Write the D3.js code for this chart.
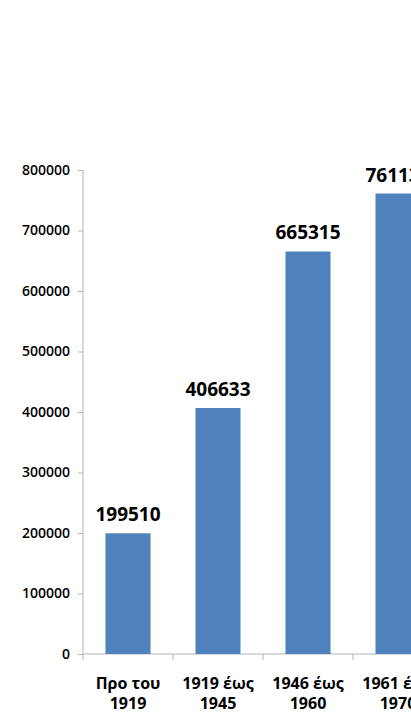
<!DOCTYPE html>
<html><head><meta charset="utf-8">
<script src="https://cdn.jsdelivr.net/npm/d3@7"></script>
<style>html,body{margin:0;padding:0;background:#fff;overflow:hidden}</style>
</head><body>
<svg id="c" width="411" height="728"></svg>
<script>
const categories = [["Προ του","1919"],["1919 έως","1945"],["1946 έως","1960"],["1961 έως","1970"]];
const values = [199510, 406633, 665315, 761138];
const yTicks = [0,100000,200000,300000,400000,500000,600000,700000,800000];

const svg = d3.select("#c");
const x = d3.scaleBand().domain(d3.range(categories.length)).range([83, 83+90*categories.length]).paddingInner(0.5).paddingOuter(0.25);
const y = d3.scaleLinear().domain([0,800000]).range([654,170]);
const axisColor = "#b3b3b3";

// y axis
const ya = svg.append("g").attr("transform","translate(83,0)")
  .call(d3.axisLeft(y).tickValues(yTicks).tickSize(5).tickPadding(8).tickFormat(d3.format("d")));
ya.select(".domain").attr("stroke",axisColor).attr("d","M0,170V654");
ya.selectAll(".tick line").attr("stroke",axisColor);
ya.selectAll(".tick text").attr("fill","#000").style("font-family","Open Sans").style("font-size","14px").style("font-weight","600");

// x axis
const xa = svg.append("g").attr("transform","translate(0,654)");
xa.append("line").attr("x1",83).attr("x2",x.range()[1]).attr("stroke",axisColor);
xa.selectAll("line.t").data(d3.range(categories.length)).join("line").attr("class","t")
  .attr("x1",i=>x(i)-x.step()*0.25).attr("x2",i=>x(i)-x.step()*0.25).attr("y1",0).attr("y2",6).attr("stroke",axisColor);

// bars
svg.selectAll("rect.bar").data(values).join("rect").attr("class","bar")
  .attr("x",(d,i)=>x(i)).attr("width",x.bandwidth())
  .attr("y",d=>y(d)).attr("height",d=>y(0)-y(d)).attr("fill","#4f81bd");

// value labels
svg.selectAll("text.val").data(values).join("text").attr("class","val")
  .attr("x",(d,i)=>x(i)+x.bandwidth()/2).attr("y",d=>y(d)-12)
  .attr("text-anchor","middle").style("font-family","Open Sans").style("font-weight","bold").style("font-size","19px")
  .text(d=>d);

// category labels
const cl = svg.selectAll("text.cat").data(categories).join("text").attr("class","cat")
  .attr("text-anchor","middle").style("font-family","Open Sans").style("font-weight","bold").style("font-size","16px");
cl.selectAll("tspan").data((d,i)=>d.map(t=>({t,i}))).join("tspan")
  .attr("x",d=>x(d.i)+x.bandwidth()/2).attr("y",(d,j)=>689+j*20).text(d=>d.t);
</script>
</body></html>
